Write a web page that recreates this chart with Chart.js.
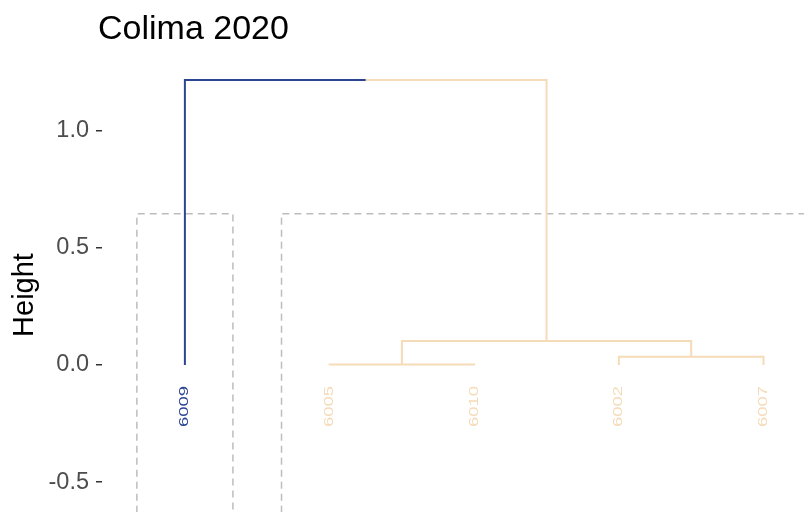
<!DOCTYPE html>
<html><head><meta charset="utf-8">
<script src="https://cdn.jsdelivr.net/npm/chart.js@4"></script>
<style>html,body{margin:0;padding:0;background:#fff;}#wrap{width:804px;height:512px;}</style>
</head><body><div id="wrap"><canvas id="c" width="804" height="512"></canvas></div>
<script>
// ---- data ----
const chartTitle = 'Colima 2020';
const yAxisTitle = 'Height';
const leafLabels = ['6009', '6005', '6010', '6002', '6007'];
const leafGroup = [0, 1, 1, 1, 1];
const groupColors = ['#2B4593', '#F5DBB8'];
// hclust-style merges: negative = leaf (1-based), positive = earlier merge row (1-based)
const mergeLeft = [-2, -4, 1, -1];
const mergeRight = [-3, -5, 2, 3];
const mergeHeight = [0.002, 0.035, 0.102, 1.215];
const yTicks = [-0.5, 0.0, 0.5, 1.0];
const rectFirstLeaf = [1, 2];
const rectLastLeaf = [1, 5];
const rectHeight = 0.645;

// ---- build tree segments ----
const nodeX = [], nodeH = [], nodeG = [];
function info(ref) {
  if (ref < 0) { const i = -ref - 1; return { x: i + 1, h: 0, g: leafGroup[i] }; }
  return { x: nodeX[ref - 1], h: nodeH[ref - 1], g: nodeG[ref - 1] };
}
const datasets = [];
for (let m = 0; m < mergeHeight.length; m++) {
  const L = info(mergeLeft[m]), R = info(mergeRight[m]), h = mergeHeight[m];
  const xm = (L.x + R.x) / 2;
  nodeX.push(xm); nodeH.push(h); nodeG.push(L.g === R.g ? L.g : -1);
  const lc = L.g >= 0 ? groupColors[L.g] : '#999', rc = R.g >= 0 ? groupColors[R.g] : '#999';
  datasets.push({ data: [{x: L.x, y: L.h}, {x: L.x, y: h}, {x: xm, y: h}], borderColor: lc, borderWidth: 2 });
  datasets.push({ data: [{x: xm, y: h}, {x: R.x, y: h}, {x: R.x, y: R.h}], borderColor: rc, borderWidth: 2 });
}
for (let r = 0; r < rectFirstLeaf.length; r++) {
  const x0 = rectFirstLeaf[r] - 0.332, x1 = rectLastLeaf[r] + 0.332;
  datasets.push({ data: [{x: x0, y: -1.5}, {x: x0, y: rectHeight}, {x: x1, y: rectHeight}, {x: x1, y: -1.5}],
    borderColor: '#BDBDBD', borderWidth: 1.5, borderDash: [7, 5] });
}
datasets.forEach(d => { d.showLine = true; d.pointRadius = 0; d.fill = false; d.tension = 0; d.borderCapStyle = 'butt'; d.borderJoinStyle = 'miter'; d.clip = {left: 0, top: 0, right: 10, bottom: 10}; });

const textPlugin = {
  id: 'texts',
  afterDatasetsDraw(chart) {
    const ctx = chart.ctx, xs = chart.scales.x, ys = chart.scales.y;
    ctx.save();
    // leaf labels
    ctx.font = '12px "Liberation Sans", Arial, sans-serif';
    ctx.textAlign = 'right'; ctx.textBaseline = 'middle';
    leafLabels.forEach((lab, i) => {
      const px = xs.getPixelForValue(i + 1), py = ys.getPixelForValue(0) + 21;
      const w = ctx.measureText(lab).width;
      ctx.save();
      ctx.translate(px, py);
      ctx.rotate(-Math.PI / 2);
      ctx.scale(41 / w, 1);
      ctx.fillStyle = groupColors[leafGroup[i]];
      ctx.fillText(lab, 0, 0);
      ctx.restore();
    });
    // title
    ctx.font = '34px "Liberation Sans", Arial, sans-serif';
    ctx.textAlign = 'left'; ctx.textBaseline = 'alphabetic'; ctx.fillStyle = '#000';
    ctx.fillText(chartTitle, 98, 39);
    // y axis title
    ctx.save();
    ctx.translate(25, 295); ctx.rotate(-Math.PI / 2);
    ctx.font = '29px "Liberation Sans", Arial, sans-serif';
    ctx.textAlign = 'center'; ctx.textBaseline = 'middle';
    ctx.fillText(yAxisTitle, 0, 0);
    ctx.restore();
    ctx.restore();
  }
};

new Chart(document.getElementById('c'), {
  type: 'scatter',
  data: { datasets },
  options: {
    responsive: false, animation: false, devicePixelRatio: 1,
    layout: { padding: { top: 60, left: 0, right: 0, bottom: 0 } },
    plugins: { legend: { display: false }, tooltip: { enabled: false }, title: { display: false } },
    scales: {
      x: { type: 'linear', min: 0.427, max: 5.28, display: false },
      y: {
        type: 'linear', min: -0.627, max: 1.30,
        afterBuildTicks: s => { s.ticks = yTicks.map(v => ({ value: v })); },
        afterFit: s => { s.width = 102; s.paddingTop = 0; s.paddingBottom = 0; },
        grid: { drawOnChartArea: false, drawTicks: true, tickLength: 6, color: '#333333', lineWidth: 1.5 },
        border: { display: false },
        ticks: { color: '#4D4D4D', padding: 7, font: { family: '"Liberation Sans", Arial, sans-serif', size: 23.5 },
          callback: v => Number(v).toFixed(1) }
      }
    }
  },
  plugins: [textPlugin]
});
</script>
</body></html>
